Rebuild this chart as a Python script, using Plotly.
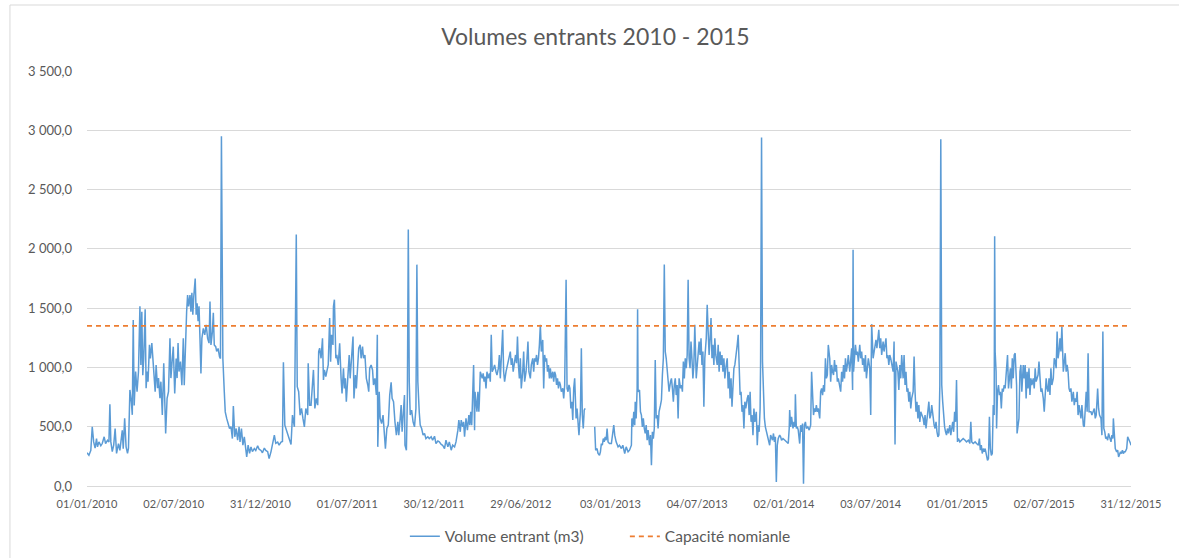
import pandas as pd
import plotly.graph_objects as go

# jours comptés depuis le 01/01/2010, volumes journaliers en m3
debut = pd.Timestamp("2010-01-01")

jours_2010 = [0, 4, 8, 11, 14, 17, 20, 22, 25, 29, 32, 36, 39, 43, 46, 48, 50, 53, 56, 59,
              62, 66, 69, 71, 74, 76, 79, 82, 85, 87, 90, 93, 95, 97, 99, 102, 105, 108, 111, 113,
              115, 117, 119, 122, 124, 126, 128, 131, 133, 136, 138, 141, 143, 145, 148, 150, 153, 155, 158, 161,
              163, 165, 168, 171, 174, 176, 179, 181, 184, 187, 189, 191, 193, 196, 199, 202, 204, 207, 209, 211,
              213, 216, 218, 220, 222, 224, 227, 229, 231, 233, 235, 237, 239, 241, 244, 247, 250, 253, 256, 258,
              260, 263, 265, 267, 270, 272, 275, 278, 280, 282, 285, 288, 290, 293, 296, 299, 302, 305, 307, 310,
              313, 316, 319, 321, 324, 327, 330, 333, 335, 338, 341, 344, 347, 351, 354, 358, 361]
vol_2010 = [280, 260, 300, 500, 372, 320, 400, 330, 372, 340, 358, 415, 358, 386, 372, 690, 372, 290, 345, 485,
            275, 358, 300, 386, 470, 315, 570, 330, 275, 320, 810, 710, 600, 1400, 680, 965, 795, 965, 1515, 1020,
            1470, 935, 1075, 1490, 825, 965, 880, 1190, 1075, 1205, 1105, 910, 795, 1020, 825, 910, 740, 880, 600, 1035,
            740, 443, 740, 795, 1245, 910, 1075, 1175, 780, 1075, 910, 1205, 965, 1050, 850, 1245, 850, 1360, 1470, 1610,
            1515, 1610, 1470, 1630, 1445, 1600, 1750, 1445, 1540, 1390, 1515, 1245, 950, 1245, 1330, 1275, 1360, 1245, 1205, 1555,
            1190, 1300, 1460, 1190, 1175, 1135, 1160, 1090, 1075, 2950, 1075, 795, 625, 570, 515, 485, 500, 400, 675, 415,
            485, 386, 500, 372, 485, 345, 415, 300, 245, 345, 275, 330, 290, 315, 300, 340, 310]

jours_2011 = [365, 368, 372, 375, 379, 382, 386, 389, 393, 396, 400, 403, 407, 410, 412, 415, 418, 421, 424, 428,
              431, 435, 436, 439, 441, 444, 447, 450, 453, 456, 459, 463, 464, 467, 470, 473, 475, 478, 481, 484,
              486, 488, 491, 494, 496, 498, 501, 503, 506, 509, 511, 513, 516, 517, 519, 522, 524, 527, 530, 533,
              535, 538, 540, 542, 544, 547, 550, 552, 555, 558, 560, 563, 565, 568, 570, 573, 575, 578, 580, 583,
              586, 589, 591, 593, 596, 599, 601, 604, 607, 609, 610, 613, 615, 618, 621, 624, 626, 629, 632, 635,
              638, 640, 643, 646, 649, 652, 654, 657, 659, 661, 664, 666, 667, 670, 672, 674, 676, 678, 681, 684,
              687, 690, 692, 694, 697, 699, 702, 705, 708, 711, 715, 718, 722, 725]
vol_2011 = [300, 280, 320, 300, 290, 231, 290, 340, 429, 360, 370, 345, 370, 375, 1043, 513, 470, 429, 390, 350,
            598, 499, 852, 2121, 838, 795, 598, 654, 570, 499, 654, 598, 1035, 682, 682, 852, 979, 654, 739, 682,
            1134, 1162, 1077, 1246, 894, 979, 922, 964, 1021, 1416, 1049, 1275, 1190, 1514, 1571, 1077, 1105, 1021, 1204, 908,
            781, 993, 823, 908, 711, 908, 1105, 908, 1077, 1260, 739, 936, 823, 1049, 1162, 1190, 1077, 1176, 1077, 1105,
            908, 852, 795, 993, 1021, 979, 852, 908, 767, 1275, 330, 795, 570, 527, 598, 429, 315, 485, 513, 767,
            874, 739, 711, 541, 429, 541, 429, 570, 682, 457, 654, 767, 344, 302, 739, 2163, 880, 598, 640, 541,
            499, 654, 1867, 880, 620, 513, 485, 429, 443, 400, 415, 400, 415, 386]

jours_2012 = [729, 732, 736, 739, 743, 746, 750, 753, 757, 760, 764, 767, 771, 774, 778, 780, 783, 785, 788, 790,
              792, 795, 798, 801, 803, 805, 807, 809, 810, 811, 813, 814, 816, 818, 820, 822, 823, 825, 827, 829,
              831, 833, 835, 837, 839, 841, 844, 846, 848, 850, 853, 855, 858, 860, 863, 865, 867, 869, 872, 874,
              876, 879, 882, 885, 888, 890, 892, 894, 897, 899, 901, 903, 905, 907, 909, 911, 914, 916, 918, 921,
              923, 925, 927, 930, 932, 935, 937, 939, 941, 943, 945, 947, 949, 951, 953, 956, 958, 960, 962, 964,
              966, 968, 970, 972, 974, 977, 979, 981, 983, 985, 987, 989, 991, 993, 995, 998, 1000, 1002, 1005, 1007,
              1009, 1011, 1013, 1015, 1017, 1019, 1021, 1023, 1026, 1028, 1030, 1032, 1035, 1037, 1039, 1041, 1043, 1045, 1055, 1065,
              1067, 1070, 1072, 1075, 1077, 1079, 1081, 1083, 1085, 1087, 1089, 1091, 1093]
vol_2012 = [420, 358, 380, 372, 350, 344, 316, 386, 330, 372, 302, 344, 330, 372, 471, 556, 457, 556, 499, 541,
            415, 570, 471, 598, 513, 626, 513, 852, 795, 1021, 471, 795, 711, 626, 795, 626, 711, 964, 936, 908,
            950, 880, 922, 823, 964, 908, 950, 880, 1275, 964, 993, 1021, 964, 936, 993, 1105, 908, 1077, 1317, 964,
            880, 964, 1021, 1077, 1134, 1021, 1077, 964, 1077, 1105, 1035, 1260, 1021, 908, 1077, 823, 964, 1134, 880, 964,
            1077, 1218, 964, 908, 1021, 1077, 964, 1077, 1049, 1105, 1021, 1077, 1190, 1359, 1134, 1232, 823, 1105, 1049, 1077,
            964, 1021, 908, 993, 908, 964, 880, 964, 936, 852, 908, 823, 880, 852, 795, 823, 739, 852, 1740, 823,
            795, 852, 823, 654, 711, 556, 823, 908, 570, 654, 541, 429, 626, 1162, 598, 485, 640, 654, None, 499,
            302, 316, 274, 259, 288, 358, 344, 400, 372, 415, 386, 485, 372]

jours_2013 = [1096, 1100, 1105, 1107, 1110, 1114, 1117, 1121, 1124, 1128, 1131, 1135, 1138, 1142, 1143, 1145, 1147, 1149, 1150, 1152,
              1154, 1155, 1156, 1159, 1161, 1163, 1165, 1167, 1169, 1171, 1173, 1175, 1177, 1180, 1182, 1184, 1186, 1188, 1190, 1192,
              1194, 1196, 1198, 1200, 1203, 1205, 1207, 1209, 1211, 1213, 1215, 1217, 1219, 1221, 1224, 1226, 1228, 1230, 1232, 1234,
              1236, 1238, 1240, 1242, 1245, 1247, 1249, 1251, 1253, 1255, 1257, 1259, 1261, 1263, 1265, 1267, 1269, 1271, 1273, 1275,
              1278, 1280, 1282, 1284, 1286, 1288, 1290, 1292, 1294, 1296, 1299, 1301, 1303, 1305, 1307, 1309, 1311, 1313, 1315, 1317,
              1319, 1322, 1324, 1326, 1328, 1330, 1332, 1334, 1336, 1338, 1340, 1343, 1345, 1347, 1349, 1351, 1353, 1355, 1357, 1359,
              1361, 1364, 1366, 1368, 1370, 1372, 1374, 1376, 1378, 1380, 1382, 1385, 1387, 1389, 1391, 1393, 1395, 1397, 1399, 1401,
              1404, 1406, 1408, 1410, 1412, 1413, 1415, 1417, 1419, 1421, 1423, 1425, 1427, 1429, 1432, 1434, 1436, 1438, 1440, 1442,
              1444, 1446, 1448, 1450, 1453, 1455, 1457, 1460]
vol_2013 = [358, 358, 513, 429, 372, 330, 344, 316, 344, 274, 330, 288, 302, 344, 570, 499, 626, 513, 711, 570,
            823, 1490, 795, 809, 626, 598, 499, 570, 485, 443, 513, 386, 471, 344, 429, 175, 457, 400, 485, 1063,
            570, 598, 485, 626, 682, 725, 936, 1077, 1867, 1134, 1077, 964, 936, 795, 880, 908, 823, 711, 852, 908,
            767, 852, 570, 908, 823, 852, 795, 1049, 908, 1077, 993, 1105, 1740, 1077, 993, 1218, 1077, 908, 1021, 1359,
            908, 1021, 1077, 1218, 1105, 1246, 1021, 1134, 668, 1077, 1246, 1528, 1303, 1105, 1246, 1416, 1077, 1190, 1021, 1246,
            1105, 1021, 1190, 964, 1134, 1021, 1105, 964, 1077, 908, 993, 1077, 823, 964, 739, 908, 668, 908, 993, 1021,
            1077, 1190, 1275, 908, 767, 795, 626, 682, 485, 711, 654, 739, 767, 598, 795, 541, 598, 429, 654, 541,
            626, 344, 513, 457, 654, 1043, 2940, 1049, 795, 570, 499, 457, 415, 400, 344, 429, 400, 386, 443, 372,
            415, 34, 344, 400, 429, 415, 386, 400]

jours_2014 = [1464, 1467, 1471, 1473, 1474, 1476, 1478, 1481, 1483, 1485, 1486, 1488, 1490, 1492, 1495, 1497, 1499, 1501, 1503, 1505,
              1507, 1509, 1512, 1515, 1518, 1520, 1522, 1524, 1526, 1528, 1530, 1532, 1534, 1537, 1539, 1541, 1543, 1545, 1547, 1549,
              1551, 1553, 1555, 1558, 1560, 1562, 1564, 1566, 1568, 1570, 1572, 1574, 1576, 1579, 1581, 1583, 1585, 1587, 1589, 1591,
              1593, 1595, 1597, 1600, 1602, 1604, 1606, 1607, 1608, 1610, 1612, 1614, 1616, 1618, 1621, 1623, 1625, 1627, 1629, 1631,
              1633, 1635, 1637, 1639, 1642, 1644, 1645, 1646, 1649, 1651, 1653, 1655, 1657, 1659, 1661, 1663, 1665, 1667, 1670, 1672,
              1674, 1676, 1678, 1680, 1682, 1684, 1686, 1688, 1691, 1693, 1695, 1697, 1699, 1701, 1703, 1705, 1707, 1709, 1712, 1714,
              1716, 1718, 1720, 1722, 1724, 1726, 1728, 1730, 1733, 1735, 1737, 1739, 1741, 1743, 1745, 1747, 1749, 1751, 1754, 1756,
              1758, 1760, 1762, 1764, 1766, 1768, 1770, 1772, 1775, 1777, 1779, 1781, 1783, 1785, 1787, 1789, 1791, 1793, 1795, 1797,
              1799, 1801, 1803, 1805, 1807, 1810, 1812, 1814, 1816, 1818, 1820, 1822, 1824, 1826, 1828]
vol_2014 = [386, 372, 358, 485, 640, 499, 584, 485, 541, 499, 773, 485, 499, 471, 358, 513, 457, 527, 20, 513,
            541, 485, 499, 471, 513, 964, 823, 598, 654, 626, 682, 626, 654, 570, 795, 823, 767, 852, 795, 1077,
            908, 936, 1190, 1077, 880, 1021, 964, 936, 1063, 964, 1021, 880, 908, 852, 795, 964, 880, 1021, 908, 1077,
            964, 1021, 1105, 964, 1077, 1162, 809, 1993, 964, 1105, 1190, 1105, 1134, 1049, 1190, 1077, 1134, 1021, 1077, 964,
            1105, 908, 1021, 1077, 993, 598, 1021, 1365, 1077, 1134, 1218, 1232, 1162, 1246, 1317, 1162, 1246, 1105, 1218, 1134,
            1190, 1246, 1077, 1105, 1021, 1105, 1077, 1021, 964, 1218, 350, 1049, 993, 964, 809, 1021, 908, 1105, 908, 1105,
            852, 964, 795, 823, 711, 795, 654, 739, 795, 1091, 795, 626, 711, 570, 682, 541, 626, 598, 570, 513,
            598, 485, 570, 682, 711, 570, 598, 682, 570, 513, 485, 541, 457, 415, 429, 852, 2925, 852, 711, 570,
            499, 457, 429, 485, 443, 513, 429, 485, 541, 457, 626, 541, 894, 372, 400]

jours_2015 = [1831, 1835, 1838, 1842, 1845, 1849, 1852, 1854, 1856, 1859, 1863, 1866, 1870, 1872, 1874, 1876, 1878, 1880, 1882, 1884,
              1887, 1889, 1891, 1893, 1895, 1897, 1899, 1901, 1903, 1904, 1905, 1907, 1908, 1910, 1912, 1914, 1916, 1918, 1920, 1922,
              1924, 1926, 1929, 1931, 1933, 1935, 1937, 1939, 1941, 1943, 1945, 1947, 1950, 1951, 1953, 1955, 1957, 1959, 1961, 1964,
              1966, 1968, 1970, 1972, 1974, 1976, 1978, 1980, 1982, 1985, 1987, 1989, 1991, 1993, 1995, 1997, 1999, 2001, 2003, 2006,
              2008, 2010, 2012, 2014, 2016, 2018, 2020, 2022, 2024, 2027, 2029, 2031, 2033, 2035, 2037, 2039, 2041, 2043, 2045, 2048,
              2050, 2052, 2054, 2056, 2058, 2060, 2062, 2064, 2066, 2069, 2071, 2073, 2075, 2077, 2079, 2081, 2083, 2085, 2087, 2090,
              2092, 2094, 2096, 2098, 2100, 2102, 2104, 2106, 2108, 2111, 2113, 2115, 2117, 2119, 2120, 2122, 2124, 2127, 2129, 2131,
              2133, 2135, 2137, 2139, 2141, 2143, 2146, 2148, 2150, 2152, 2153, 2155, 2157, 2160, 2162, 2164, 2166, 2168, 2170, 2172,
              2174, 2176, 2178, 2181, 2183, 2185, 2187, 2189, 2190]
vol_2015 = [372, 386, 400, 386, 372, 386, 358, 541, 372, 358, 372, 358, 344, 400, 302, 344, 274, 316, 288, 316,
            231, 217, 231, 584, 316, 259, 274, 682, 598, 2107, 1134, 964, 485, 795, 852, 767, 795, 654, 823, 795,
            852, 823, 993, 1105, 823, 908, 993, 823, 1077, 908, 1105, 1120, 852, 443, 513, 570, 964, 1021, 795, 1021,
            908, 1021, 739, 964, 823, 993, 767, 908, 852, 908, 823, 993, 880, 908, 936, 1049, 880, 795, 823, 739,
            626, 823, 908, 823, 795, 908, 767, 993, 852, 908, 1077, 1049, 993, 1303, 1077, 1134, 1246, 1134, 1345, 964,
            1021, 1120, 964, 1021, 964, 823, 795, 823, 711, 795, 682, 739, 711, 795, 598, 682, 626, 570, 682, 513,
            499, 682, 795, 626, 1120, 626, 626, 626, 598, 626, 654, 570, 598, 739, 823, 654, 598, 570, 429, 1303,
            485, 457, 400, 415, 386, 443, 400, 372, 429, 400, 570, 372, 316, 288, 302, 245, 274, 288, 274, 302,
            274, 288, 288, 316, 415, 400, 372, 358, 344]

capacite_nominale = 1350

dates_ticks = ["2010-01-01", "2010-07-02", "2010-12-31", "2011-07-01", "2011-12-30", "2012-06-29", "2013-01-03",
               "2013-07-04", "2014-01-02", "2014-07-03", "2015-01-01", "2015-07-02", "2015-12-31"]
labels_ticks = ["01/01/2010", "02/07/2010", "31/12/2010", "01/07/2011", "30/12/2011", "29/06/2012", "03/01/2013",
                "04/07/2013", "02/01/2014", "03/07/2014", "01/01/2015", "02/07/2015", "31/12/2015"]
y_ticks = [0, 500, 1000, 1500, 2000, 2500, 3000, 3500]
y_labels = ["0,0", "500,0", "1 000,0", "1 500,0", "2 000,0", "2 500,0", "3 000,0", "3 500,0"]

blocs = [(jours_2010, vol_2010), (jours_2011, vol_2011), (jours_2012, vol_2012),
         (jours_2013, vol_2013), (jours_2014, vol_2014), (jours_2015, vol_2015)]
df = pd.concat([pd.DataFrame({"jour": j, "volume": v}) for j, v in blocs], ignore_index=True)
df["date"] = debut + pd.to_timedelta(df["jour"], unit="D")

gris = "#595959"

fig = go.Figure()
fig.add_trace(go.Scatter(
    x=df["date"], y=df["volume"], mode="lines",
    name="Volume entrant (m3)",
    line=dict(color="#5B9BD5", width=1.5),
))
fig.add_trace(go.Scatter(
    x=[df["date"].min(), df["date"].max()], y=[capacite_nominale, capacite_nominale], mode="lines",
    name="Capacité nomianle",
    line=dict(color="#ED7D31", width=1.75, dash="5px,4px"),
))

fig.update_layout(
    width=1179, height=558,
    margin=dict(l=87, r=48, t=71, b=72, autoexpand=False),
    paper_bgcolor="white", plot_bgcolor="white",
    font=dict(family="Lato", color=gris),
    title=dict(text="Volumes entrants 2010 - 2015", x=0.505, xanchor="center",
               y=0.934, yanchor="middle", font=dict(family="Lato", size=23, color=gris)),
    legend=dict(orientation="h", xref="container", yref="container",
                x=0.53, xanchor="center", y=0.038, yanchor="middle",
                entrywidth=175, font=dict(size=15.5, color=gris)),
    showlegend=True,
)
fig.update_xaxes(
    type="date", range=[debut, df["date"].max()],
    tickvals=dates_ticks, ticktext=labels_ticks,
    showgrid=False, showline=False, zeroline=False, ticks="",
    tickfont=dict(size=11, color=gris), ticklabelstandoff=10,
)
fig.update_yaxes(
    range=[0, 3500], tickvals=y_ticks, ticktext=y_labels,
    showgrid=True, gridcolor="#D9D9D9", gridwidth=1,
    zeroline=True, zerolinecolor="#D9D9D9", zerolinewidth=1,
    showline=False, ticks="", tickfont=dict(size=13, color=gris), ticklabelstandoff=14,
)
# cadre du graphique
fig.add_shape(type="rect", xref="paper", yref="paper",
              x0=-0.0738, x1=1.2, y0=-0.3, y1=1.159,
              line=dict(color="#D9D9D9", width=1), layer="below")

# la page n'ajoute pas de marge autour du graphique
fig.write_html("out.html", config={"displayModeBar": False},
               post_script="document.body.style.margin='0';")
